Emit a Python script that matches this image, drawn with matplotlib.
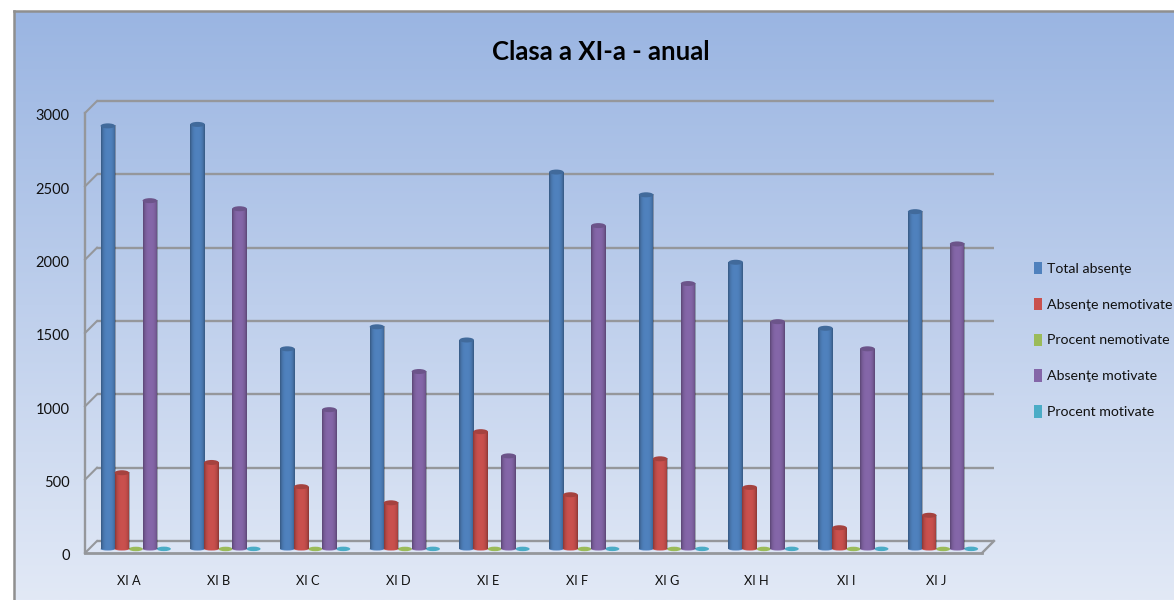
import numpy as np
import matplotlib
matplotlib.use("Agg")
import matplotlib.pyplot as plt
from matplotlib.colors import to_rgb
from matplotlib.patches import Ellipse, Patch
from matplotlib.transforms import Affine2D

categories = ["XI A", "XI B", "XI C", "XI D", "XI E", "XI F", "XI G", "XI H", "XI I", "XI J"]
total_absente = [2885, 2895, 1365, 1515, 1425, 2570, 2415, 1955, 1505, 2300]
absente_nemotivate = [520, 590, 425, 315, 800, 370, 615, 420, 145, 230]
procent_nemotivate = [0.18, 0.20, 0.31, 0.21, 0.56, 0.14, 0.25, 0.21, 0.09, 0.10]
absente_motivate = [2375, 2320, 950, 1210, 635, 2205, 1810, 1550, 1365, 2080]
procent_motivate = [0.82, 0.80, 0.69, 0.79, 0.44, 0.86, 0.75, 0.79, 0.91, 0.90]
series_names = ["Total absenţe", "Absenţe nemotivate", "Procent nemotivate", "Absenţe motivate", "Procent motivate"]
series_values = [total_absente, absente_nemotivate, procent_nemotivate, absente_motivate, procent_motivate]
series_colors = ["#4F81BD", "#C9504D", "#9BBB59", "#8466A8", "#4BACC6"]
y_ticks = [0, 500, 1000, 1500, 2000, 2500, 3000]
title = "Clasa a XI-a - anual"

plt.rcParams["font.family"] = ["Lato", "DejaVu Sans"]

W, H = 1174, 600
fig = plt.figure(figsize=(W / 100, H / 100), dpi=100, facecolor="white")

# background panel
bg = fig.add_axes([14 / W, 0, 1 - 14 / W, (H - 11) / H], zorder=0)
c0, c1 = np.array(to_rgb("#9AB5E2")), np.array(to_rgb("#E2E9F6"))
t = np.linspace(0, 1, 256)[:, None, None]
bg.imshow(c0 * (1 - t) + c1 * t, aspect="auto", extent=[0, 1, 0, 1], interpolation="bilinear")
bg.set_xticks([]); bg.set_yticks([])
for s in ("right", "bottom"):
    bg.spines[s].set_visible(False)
for s in ("left", "top"):
    bg.spines[s].set_color("#8F8F8F"); bg.spines[s].set_linewidth(1.8)

# plot area = front plane of the pseudo-3D box
left, right, top, bottom = 85, 982, 113, 553
ax = fig.add_axes([left / W, (H - bottom) / H, (right - left) / W, (bottom - top) / H], zorder=1)
ax.patch.set_alpha(0)
for s in ax.spines.values():
    s.set_visible(False)

GRID = "#95979B"
DX, DY = 12, 12
back = ax.transData + Affine2D().translate(DX, DY)
mid = ax.transData + Affine2D().translate(6, 4)
n = len(categories)
px_x = n / (right - left)
px_y = 3000 / (bottom - top)

for v in y_ticks:
    ax.plot([0, n], [v, v], color=GRID, lw=1.7, transform=back, zorder=1, solid_capstyle="butt", clip_on=False)
    ax.plot([0, DX * px_x], [v, v + DY * px_y], color=GRID, lw=1.5, zorder=1, clip_on=False)
ax.plot([0, 0], [0, 3000], color=GRID, lw=1.7, zorder=1, clip_on=False)
ax.plot([0, n], [0, 0], color=GRID, lw=2, zorder=1, clip_on=False)
ax.plot([n, n + DX * px_x], [0, DY * px_y], color=GRID, lw=1.7, zorder=1, clip_on=False)

# cylinders
bar_w = 14 * px_x
offs = (np.arange(5) - 2) * bar_w
edge = np.abs(np.linspace(-1, 1, 64)) ** 3
shade = np.zeros((1, 64, 4))
shade[..., 3] = edge * 0.32
for i, (name, vals, col) in enumerate(zip(series_names, series_values, series_colors)):
    xs = np.arange(n) + 0.5 + offs[i]
    rgb = np.array(to_rgb(col))
    z = 3 + (i % 2) * 0.01
    ax.bar(xs, vals, width=bar_w * 1.04, color=col, transform=mid, zorder=z, label=name, clip_on=False)
    for x, v in zip(xs, vals):
        if v > 5:
            im = ax.imshow(shade, extent=[x - bar_w * 0.52, x + bar_w * 0.52, 0, v], aspect="auto",
                           transform=mid, zorder=z + 0.001, interpolation="bilinear")
            im.set_clip_on(False)
            ax.add_patch(Ellipse((x, v), bar_w * 1.04, 5 * px_y, facecolor=rgb * 0.82,
                                 edgecolor="none", transform=mid, zorder=z + 0.002, clip_on=False))
            ax.add_patch(Ellipse((x, 0), bar_w * 1.04, 3 * px_y, facecolor=col,
                                 edgecolor="none", transform=mid, zorder=z - 0.001, clip_on=False))
        else:
            ax.add_patch(Ellipse((x, v), bar_w, 4.5 * px_y, facecolor=col,
                                 edgecolor="none", transform=mid, zorder=z, clip_on=False))

ax.set_xlim(0, n)
ax.set_ylim(0, 3000)
ax.set_xticks(np.arange(n) + 0.5)
ax.set_xticklabels(categories, fontsize=9.2, color="#111111")
ax.set_yticks(y_ticks)
ax.set_yticklabels([str(v) for v in y_ticks], fontsize=10.5, color="#111111")
ax.tick_params(axis="x", length=0, pad=16)
ax.tick_params(axis="y", length=0, pad=11)
for lab in ax.get_yticklabels():
    lab.set_transform(lab.get_transform() + Affine2D().translate(0, -2))
for lab in ax.get_xticklabels():
    lab.set_transform(lab.get_transform() + Affine2D().translate(-1, 0))

fig.text(601 / W, (H - 52) / H, title, ha="center", va="center", fontsize=18.5, fontweight="bold", color="#000000")

handles = [Patch(facecolor=c, edgecolor="none", label=nm) for c, nm in zip(series_colors, series_names)]
leg = fig.legend(handles=handles, loc="center left", bbox_to_anchor=(1034 / W, (H - 340) / H), frameon=False,
                 fontsize=10.2, labelspacing=1.62, handlelength=0.57, handleheight=0.95, handletextpad=0.35,
                 borderpad=0, borderaxespad=0)
for tx in leg.get_texts():
    tx.set_color("#111111")
leg.set_zorder(5)

fig.savefig("out.png", dpi=100, facecolor="white")
